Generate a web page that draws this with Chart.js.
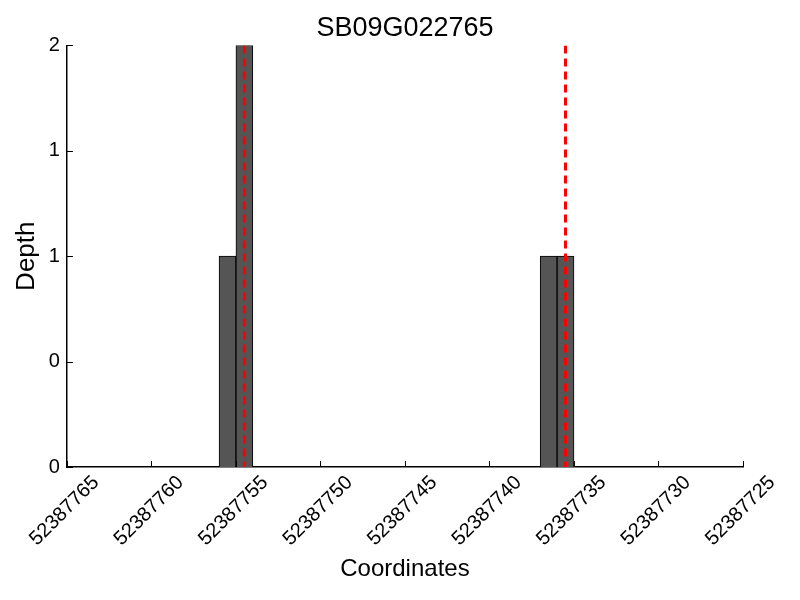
<!DOCTYPE html>
<html>
<head>
<meta charset="utf-8">
<script src="https://cdn.jsdelivr.net/npm/chart.js@4"></script>
<style>
  html, body { margin: 0; padding: 0; background: #fff; }
  #wrap { width: 800px; height: 600px; }
</style>
</head>
<body>
<div id="wrap"><canvas id="depthChart" width="800" height="600"></canvas></div>
<script>
// datos
const chartTitle = "SB09G022765";
const binCenters = [52387755.5, 52387754.5, 52387736.5, 52387735.5];
const depths = [1, 2, 1, 1];
const markerPositions = [52387754.5, 52387735.5];
const xMin = 52387725, xMax = 52387765, xStep = 5;
const yMin = 0, yMax = 2, yStep = 0.5;
const yTickLabels = ["0", "0", "1", "1", "2"];

const FONT = "'Liberation Sans', Arial, sans-serif";

// marcas de ticks hacia adentro
const innerTicks = {
  id: "innerTicks",
  afterDraw(chart) {
    const { ctx, chartArea, scales } = chart;
    ctx.save();
    ctx.strokeStyle = "#000";
    ctx.lineWidth = 1;
    scales.x.ticks.forEach((t, i) => {
      const px = Math.round(scales.x.getPixelForTick(i)) + 0.5;
      ctx.beginPath();
      ctx.moveTo(px, chartArea.bottom);
      ctx.lineTo(px, chartArea.bottom - 6);
      ctx.stroke();
    });
    scales.y.ticks.forEach((t, i) => {
      const py = Math.round(scales.y.getPixelForTick(i)) + 0.5;
      ctx.beginPath();
      ctx.moveTo(chartArea.left, py);
      ctx.lineTo(chartArea.left + 6, py);
      ctx.stroke();
    });
    ctx.restore();
  }
};

const markerSets = markerPositions.map(m => ({
  type: "line",
  data: [{ x: m, y: yMax }, { x: m, y: yMin }],
  borderColor: "#ff0000",
  borderWidth: 3,
  borderDash: [8, 5],
  pointRadius: 0,
  fill: false,
  order: 0
}));

new Chart(document.getElementById("depthChart"), {
  type: "bar",
  data: {
    datasets: [{
      data: binCenters.map((x, i) => ({ x, y: depths[i] })),
      backgroundColor: "#555555",
      borderColor: "#000",
      borderWidth: 1,
      barPercentage: 1,
      categoryPercentage: 1,
      order: 1
    }, ...markerSets]
  },
  options: {
    responsive: false,
    animation: false,
    layout: { padding: { left: 0, right: 57, top: 0, bottom: 0 } },
    plugins: {
      legend: { display: false },
      tooltip: { enabled: false },
      title: {
        display: true,
        fullSize: false,
        text: chartTitle,
        color: "#000",
        font: { family: FONT, size: 27, weight: "normal" },
        padding: { top: 12, bottom: 1 }
      }
    },
    scales: {
      x: {
        type: "linear",
        reverse: true,
        offset: false,
        min: xMin,
        max: xMax,
        grid: { display: false, drawTicks: false },
        border: { display: true, color: "#000", width: 1.5 },
        ticks: {
          stepSize: xStep,
          autoSkip: false,
          minRotation: 45,
          maxRotation: 45,
          labelOffset: 29,
          padding: 4,
          color: "#000",
          font: { family: FONT, size: 20 },
          callback: v => String(v)
        },
        title: {
          display: true,
          text: "Coordinates",
          color: "#000",
          font: { family: FONT, size: 24 },
          padding: { top: 0, bottom: 16 }
        },
        afterFit: s => { s.height = 133; }
      },
      y: {
        min: yMin,
        max: yMax,
        grid: { display: false, drawTicks: false },
        border: { display: true, color: "#000", width: 1.5 },
        ticks: {
          stepSize: yStep,
          padding: 7,
          color: "#000",
          font: { family: FONT, size: 20 },
          callback: (v, i) => yTickLabels[i]
        },
        title: {
          display: true,
          text: "Depth",
          color: "#000",
          font: { family: FONT, size: 26 },
          padding: { top: 10, bottom: 0 }
        },
        afterFit: s => { s.width = 66; }
      }
    }
  },
  plugins: [innerTicks]
});
</script>
</body>
</html>
